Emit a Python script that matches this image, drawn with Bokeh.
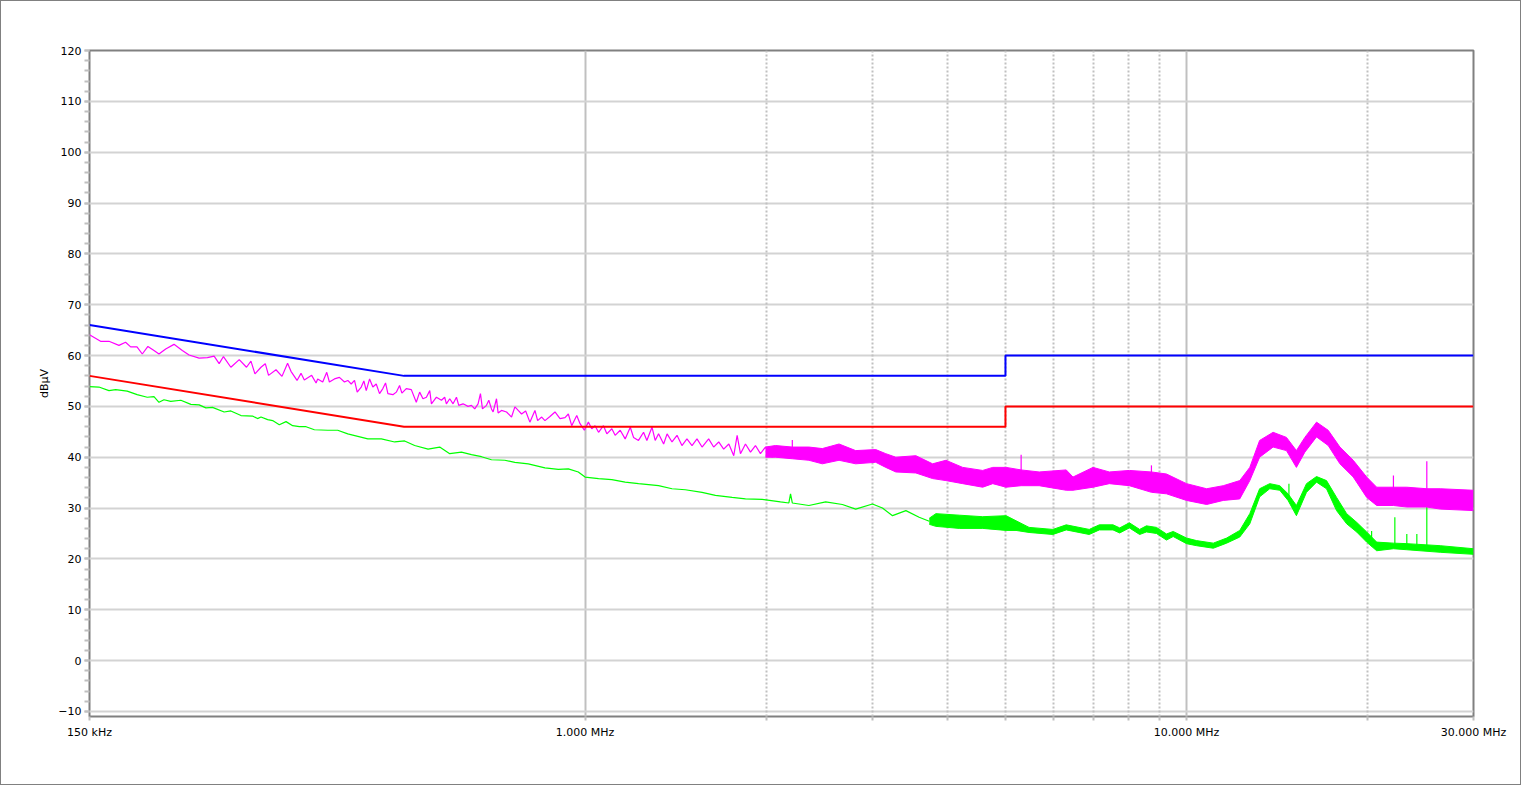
from bokeh.plotting import figure
from bokeh.models import Range1d, FixedTicker, SingleIntervalTicker, Grid
from bokeh.embed import file_html
from bokeh.resources import INLINE

# ---------------- data (frequency in MHz, level in dBuV) ----------------
# Limit lines
lim_f = [0.15, 0.5, 5.0, 5.0, 30.0]
qp_limit = [66.0, 56.0, 56.0, 60.0, 60.0]
av_limit = [56.0, 46.0, 46.0, 50.0, 50.0]

# Peak trace (magenta), sparse part as a line
pk_line_f = [0.150, 0.1565, 0.1616, 0.1679, 0.1722, 0.1756, 0.1799, 0.1836, 0.1876, 0.1920,
             0.1957, 0.2008, 0.2073, 0.2140, 0.2196, 0.2282, 0.2356, 0.2417, 0.2464, 0.2505,
             0.2577, 0.2661, 0.2736, 0.2783, 0.2826, 0.2892, 0.2940, 0.2977, 0.3063, 0.3134,
             0.3202, 0.3244, 0.3320, 0.3371, 0.3414, 0.3511, 0.3571, 0.3593, 0.3663, 0.3720,
             0.3758, 0.3831, 0.3905, 0.3981, 0.4032, 0.4085, 0.4137, 0.4180, 0.4245, 0.4288,
             0.4327, 0.4383, 0.4438, 0.4496, 0.4553, 0.4611, 0.4659, 0.4701, 0.4792, 0.4855,
             0.4916, 0.4960, 0.5044, 0.5142, 0.5241, 0.5309, 0.5377, 0.5448, 0.5518, 0.5554,
             0.5661, 0.5771, 0.5843, 0.5881, 0.5957, 0.6033, 0.6112, 0.6166, 0.6268, 0.6389,
             0.6473, 0.6555, 0.6639, 0.6700, 0.6752, 0.6857, 0.6918, 0.6989, 0.7033, 0.7125,
             0.7169, 0.7263, 0.7404, 0.7547, 0.7644, 0.7742, 0.7843, 0.7966, 0.8096, 0.8254,
             0.8340, 0.8470, 0.8577, 0.8743, 0.8913, 0.9086, 0.9261, 0.9380, 0.9502, 0.9687,
             0.9810, 0.9973, 1.0128, 1.026, 1.039, 1.053, 1.073, 1.087, 1.108, 1.122,
             1.144, 1.166, 1.189, 1.204, 1.227, 1.251, 1.267, 1.292, 1.308, 1.325,
             1.351, 1.369, 1.395, 1.422, 1.449, 1.477, 1.506, 1.535, 1.565, 1.605,
             1.636, 1.668, 1.700, 1.734, 1.767, 1.790, 1.813, 1.848, 1.884, 1.920,
             1.957, 1.995, 2.047, 2.073]
pk_line_v = [64.1, 62.8, 62.8, 62.0, 62.6, 61.7, 61.7, 60.3, 61.8, 61.0,
             60.3, 61.3, 62.2, 61.0, 60.1, 59.5, 59.6, 59.9, 58.4, 59.8,
             57.7, 59.2, 57.7, 58.9, 56.4, 57.7, 58.4, 56.1, 57.2, 55.9,
             58.5, 56.9, 55.1, 56.5, 55.2, 56.1, 54.6, 55.4, 54.8, 56.7,
             54.8, 55.4, 55.7, 54.8, 55.1, 54.4, 55.1, 52.8, 53.8, 55.0,
             53.1, 55.4, 53.8, 54.4, 52.5, 53.5, 54.6, 52.5, 52.3, 52.8,
             54.1, 52.6, 53.5, 53.3, 50.8, 52.8, 51.5, 51.8, 53.1, 50.5,
             51.8, 51.2, 51.8, 50.5, 51.5, 50.5, 51.8, 50.2, 50.5, 50.0,
             50.2, 49.5, 50.5, 52.5, 49.5, 50.2, 51.2, 49.5, 48.9, 51.5,
             48.7, 49.2, 48.9, 47.9, 49.9, 49.2, 48.5, 49.1, 46.9, 49.2,
             47.2, 47.9, 47.2, 48.0, 48.9, 47.6, 47.8, 48.5, 46.2, 48.2,
             46.6, 45.3, 46.9, 45.6, 46.2, 44.9, 46.2, 44.6, 45.6, 44.3,
             45.3, 43.6, 45.9, 43.9, 43.3, 44.9, 43.3, 45.9, 43.3, 44.6,
             42.6, 44.6, 43.0, 44.3, 42.3, 43.6, 42.3, 43.6, 42.0, 43.6,
             42.0, 43.0, 41.6, 42.6, 40.3, 44.3, 40.7, 42.6, 41.0, 42.3,
             40.7, 42.0, 40.0, 41.6]

# Peak trace, dense part as an upper / lower envelope
pk_band_f = [1.995, 2.073, 2.211, 2.356, 2.480, 2.644, 2.818, 3.043, 3.162, 3.286,
             3.548, 3.783, 3.981, 4.245, 4.583, 4.763, 5.012, 5.309, 5.689, 6.310,
             6.475, 6.991, 7.441, 8.035, 8.743, 9.261, 10.00, 10.80, 11.51, 12.26,
             12.74, 13.23, 13.93, 14.66, 15.23, 15.73, 16.45, 17.20, 17.99, 18.93,
             19.93, 20.71, 22.08, 23.24, 25.09, 26.41, 30.0]
pk_hi = [42.0, 42.3, 42.0, 42.0, 41.7, 42.6, 41.3, 41.5, 40.7, 40.0,
         40.3, 38.7, 39.4, 38.0, 37.4, 38.0, 38.0, 37.5, 37.1, 37.5,
         36.1, 38.0, 37.1, 37.4, 37.1, 36.7, 34.8, 33.8, 34.4, 35.4,
         38.0, 43.3, 44.9, 43.9, 41.3, 43.9, 46.9, 45.3, 42.0, 39.4,
         36.1, 34.1, 34.1, 34.1, 33.8, 33.8, 33.5]
pk_lo = [40.0, 40.0, 39.7, 39.4, 38.7, 39.4, 38.7, 39.0, 38.0, 37.1,
         36.9, 35.8, 35.4, 34.8, 34.1, 34.8, 34.1, 34.4, 34.4, 33.5,
         33.5, 34.1, 34.8, 34.4, 33.1, 32.8, 31.5, 30.7, 31.5, 31.8,
         35.4, 40.0, 42.0, 41.3, 38.0, 41.0, 44.0, 42.3, 38.7, 36.1,
         32.1, 30.5, 30.5, 30.2, 30.2, 29.8, 29.5]
pk_spike_f = [2.211, 5.309, 8.743, 22.08, 25.09]
pk_spike_top = [43.4, 40.5, 38.4, 36.4, 39.2]
pk_spike_base = [40.5, 36.0, 35.5, 32.5, 32.0]

# Average trace (green), line part
gr_line_f = [0.150, 0.1555, 0.1616, 0.1658, 0.1733, 0.1800, 0.1871, 0.1920, 0.1957, 0.1995,
             0.2047, 0.2128, 0.2211, 0.2282, 0.2342, 0.2402, 0.2512, 0.2577, 0.2679, 0.2800,
             0.2854, 0.2892, 0.2967, 0.3024, 0.3102, 0.3183, 0.3265, 0.3350, 0.3437, 0.3548,
             0.3734, 0.3879, 0.4032, 0.4190, 0.4353, 0.4585, 0.4825, 0.5012, 0.5208, 0.5483,
             0.5732, 0.5957, 0.6230, 0.6473, 0.6727, 0.6989, 0.7356, 0.7644, 0.8045, 0.8577,
             0.9026, 0.9380, 0.9745, 1.000, 1.053, 1.108, 1.166, 1.227, 1.325, 1.395,
             1.468, 1.565, 1.647, 1.756, 1.848, 1.970, 2.113, 2.182, 2.196, 2.211,
             2.356, 2.512, 2.678, 2.818, 3.005, 3.122, 3.245, 3.415, 3.593, 3.735]
gr_line_v = [53.9, 53.8, 53.1, 53.3, 53.0, 52.3, 51.8, 51.9, 50.8, 51.3,
             51.0, 51.2, 50.4, 50.3, 49.7, 49.8, 48.9, 49.1, 48.2, 48.1,
             47.6, 47.9, 47.4, 47.2, 46.4, 47.0, 46.2, 46.0, 46.0, 45.4,
             45.3, 45.3, 44.6, 44.1, 43.6, 43.6, 43.0, 43.2, 42.3, 41.6,
             42.0, 40.7, 41.0, 40.5, 40.1, 39.5, 39.4, 39.0, 38.7, 37.9,
             37.6, 37.7, 37.1, 36.1, 35.8, 35.6, 35.1, 34.8, 34.4, 33.8,
             33.6, 33.1, 32.5, 32.1, 31.8, 31.7, 31.2, 31.0, 32.8, 31.0,
             30.5, 31.2, 30.7, 29.8, 30.8, 30.0, 28.5, 29.5, 28.2, 27.4]

# Average trace, dense part as an envelope
gr_band_f = [3.735, 3.831, 4.190, 4.583, 5.012, 5.207, 5.473, 5.995, 6.310, 6.890,
             7.161, 7.547, 7.743, 8.035, 8.357, 8.577, 8.913, 9.261, 9.502, 10.00,
             10.39, 11.08, 11.66, 12.26, 12.74, 13.23, 13.75, 14.29, 14.75, 15.23,
             15.83, 16.45, 17.09, 17.76, 18.46, 19.18, 19.93, 20.71, 22.08, 23.24,
             26.41, 30.0]
gr_hi = [28.0, 28.9, 28.6, 28.3, 28.5, 27.5, 26.2, 25.8, 26.7, 25.8,
         26.7, 26.7, 26.1, 27.1, 25.8, 26.5, 26.2, 24.9, 25.4, 24.1,
         23.6, 23.1, 24.1, 25.6, 28.9, 33.8, 34.8, 34.4, 32.8, 30.5,
         34.8, 36.2, 35.4, 32.1, 28.9, 27.2, 25.3, 23.3, 23.1, 23.0,
         22.6, 22.0]
gr_lo = [26.8, 26.4, 26.0, 26.0, 25.6, 25.6, 25.2, 24.8, 25.7, 24.8,
         25.7, 25.7, 25.1, 26.1, 24.8, 25.3, 25.0, 23.7, 24.4, 23.0,
         22.6, 22.1, 23.1, 24.3, 26.9, 32.2, 33.8, 33.5, 31.5, 28.5,
         33.1, 35.1, 33.8, 29.5, 26.9, 25.3, 23.3, 21.6, 22.0, 21.8,
         21.3, 20.9]
gr_spike_f = [14.8, 20.31, 22.2, 23.24, 24.15, 25.09]
gr_spike_top = [34.8, 25.5, 28.2, 24.9, 24.9, 30.5]
gr_spike_base = [32.0, 22.5, 22.5, 22.3, 22.2, 22.2]

# Axis ticks / labels
x_major = [0.15, 1.0, 10.0, 30.0]
x_major_labels = ["150 kHz", "1.000 MHz", "10.000 MHz", "30.000 MHz"]
x_solid_grid = [1.0, 10.0]
x_dotted_grid = [2.0, 3.0, 4.0, 5.0, 6.0, 7.0, 8.0, 9.0, 20.0]

# ---------------- figure ----------------
FONT = "DejaVu Sans"
MAGENTA = "#FF00FF"
GREEN = "#00FF00"

p = figure(width=1521, height=785, x_axis_type="log",
           x_range=Range1d(0.15, 30.0), y_range=Range1d(-11, 120),
           output_backend="svg", toolbar_location=None,
           min_border_left=88, min_border_right=49, min_border_top=49, min_border_bottom=70)
p.styles = {"border": "1px solid #808080"}
p.background_fill_color = "white"
p.border_fill_color = "white"
p.outline_line_color = "#808080"
p.outline_line_width = 2

# y axis
p.yaxis.ticker = SingleIntervalTicker(interval=10, num_minor_ticks=5)
p.yaxis.axis_line_color = None
p.yaxis.major_tick_in = 0
p.yaxis.major_tick_out = 5
p.yaxis.minor_tick_in = 0
p.yaxis.minor_tick_out = 5
p.yaxis.major_tick_line_color = "#c0c0c0"
p.yaxis.minor_tick_line_color = "#c0c0c0"
p.yaxis.major_tick_line_width = 2
p.yaxis.minor_tick_line_width = 2
p.yaxis.major_label_standoff = 3
p.yaxis.major_label_text_font = FONT
p.yaxis.major_label_text_font_size = "11px"
p.yaxis.major_label_text_color = "#000000"
p.yaxis.axis_label = "dBµV"
p.yaxis.axis_label_text_font = FONT
p.yaxis.axis_label_text_font_size = "11px"
p.yaxis.axis_label_text_font_style = "normal"
p.yaxis.axis_label_text_color = "#000000"
p.yaxis.axis_label_standoff = 4

# x axis
p.xaxis.ticker = FixedTicker(ticks=x_major, minor_ticks=x_dotted_grid)
p.xaxis.major_label_overrides = {t: l for t, l in zip(x_major, x_major_labels)}
p.xaxis.axis_line_color = None
p.xaxis.major_tick_in = 0
p.xaxis.major_tick_out = 4
p.xaxis.minor_tick_in = 0
p.xaxis.minor_tick_out = 4
p.xaxis.major_tick_line_color = "#c0c0c0"
p.xaxis.minor_tick_line_color = "#c0c0c0"
p.xaxis.major_tick_line_width = 2
p.xaxis.minor_tick_line_width = 2
p.xaxis.major_label_standoff = 5
p.xaxis.major_label_text_font = FONT
p.xaxis.major_label_text_font_size = "11px"
p.xaxis.major_label_text_color = "#000000"

# grids
p.ygrid.ticker = SingleIntervalTicker(interval=10)
p.ygrid.grid_line_color = "#d3d3d3"
p.ygrid.grid_line_width = 2
p.xgrid.ticker = FixedTicker(ticks=x_solid_grid)
p.xgrid.grid_line_color = "#c0c0c0"
p.xgrid.grid_line_width = 2
dot_grid = Grid(dimension=0, ticker=FixedTicker(ticks=x_dotted_grid),
                grid_line_color="#c0c0c0", grid_line_width=2, grid_line_dash="2 2")
p.add_layout(dot_grid)

# traces
p.varea(x=gr_band_f, y1=gr_lo, y2=gr_hi, fill_color=GREEN)
p.line(gr_band_f, gr_hi, line_color=GREEN, line_width=1)
p.line(gr_band_f, gr_lo, line_color=GREEN, line_width=1)
p.line(gr_line_f, gr_line_v, line_color=GREEN, line_width=1.2)
p.segment(x0=gr_spike_f, y0=gr_spike_base, x1=gr_spike_f, y1=gr_spike_top,
          line_color=GREEN, line_width=1.2)

p.varea(x=pk_band_f, y1=pk_lo, y2=pk_hi, fill_color=MAGENTA)
p.line(pk_band_f, pk_hi, line_color=MAGENTA, line_width=1)
p.line(pk_band_f, pk_lo, line_color=MAGENTA, line_width=1)
p.line(pk_line_f, pk_line_v, line_color=MAGENTA, line_width=1.2)
p.segment(x0=pk_spike_f, y0=pk_spike_base, x1=pk_spike_f, y1=pk_spike_top,
          line_color=MAGENTA, line_width=1.2)

# limits
p.line(lim_f, qp_limit, line_color="#0000FF", line_width=2)
p.line(lim_f, av_limit, line_color="#FF0000", line_width=2)

open("out.html", "w").write(file_html(p, INLINE))
